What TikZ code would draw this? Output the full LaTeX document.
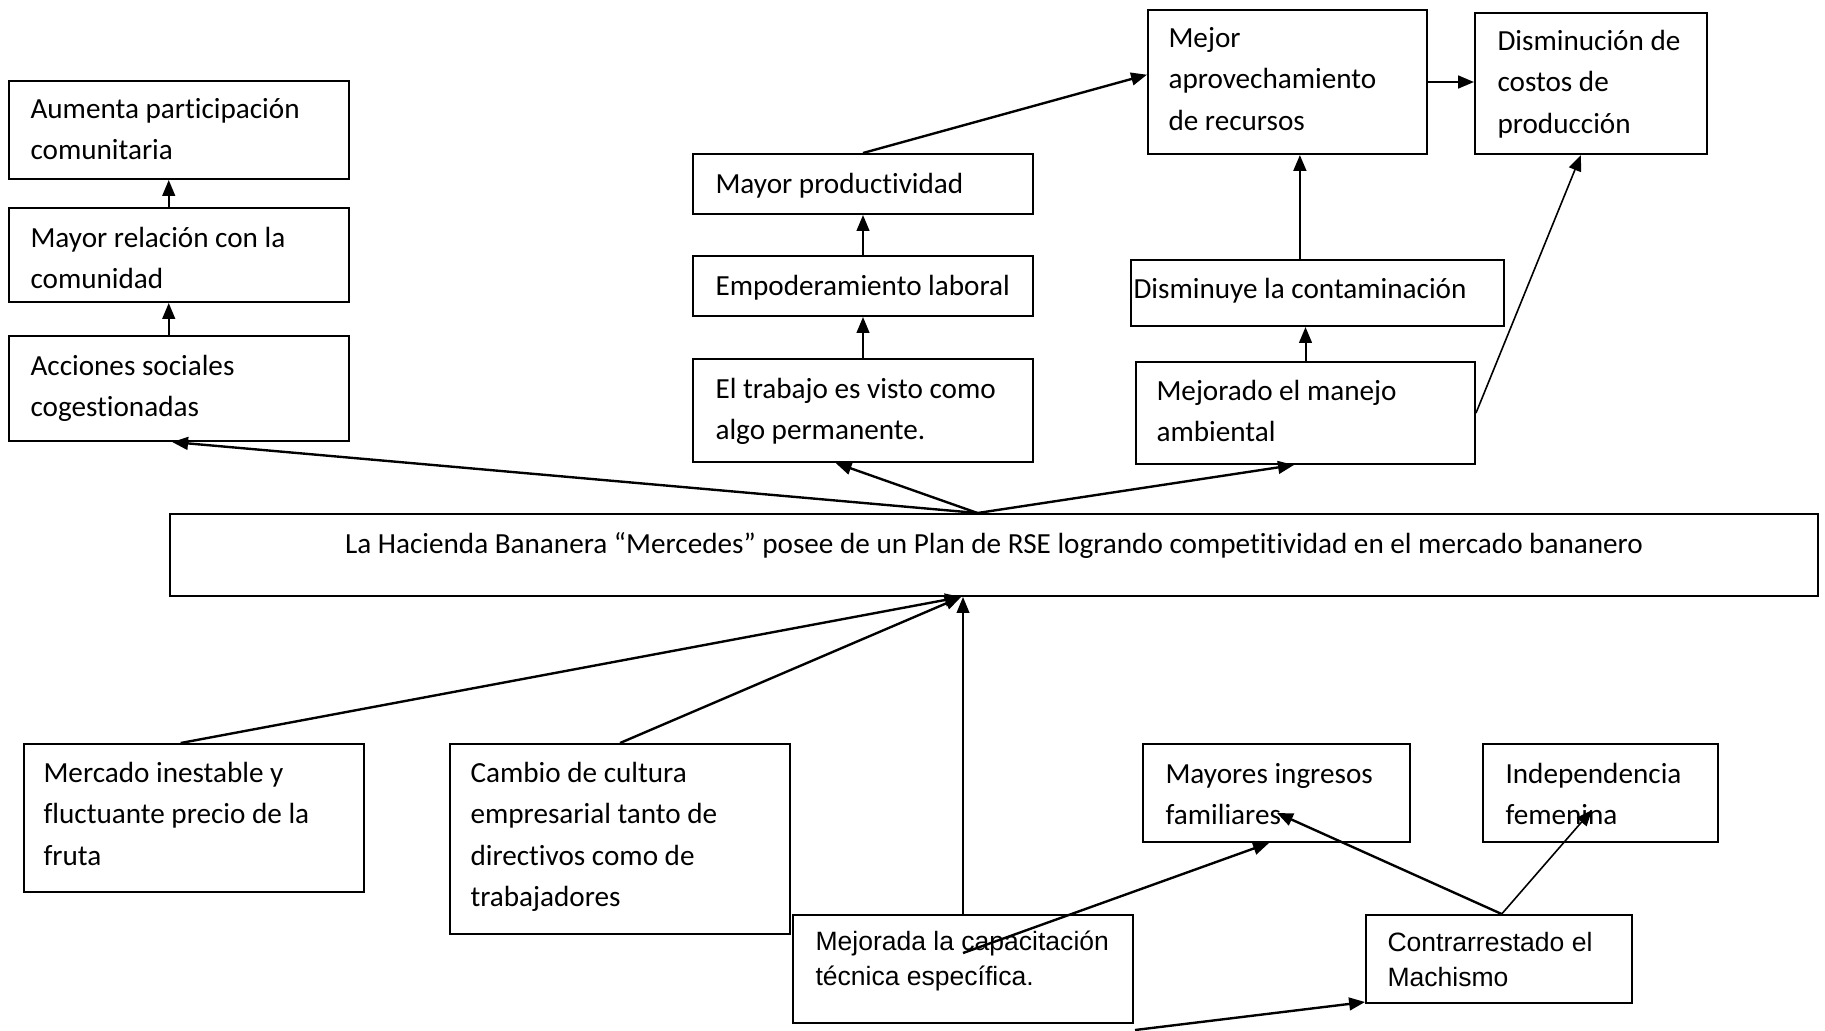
\documentclass[tikz,border=0pt]{standalone}
\usepackage{fontspec}
\setmainfont[RawFeature={-liga}]{Carlito}
\newfontfamily\arialf{Liberation Sans}
\usetikzlibrary{arrows.meta,fit,calc}
\newcommand\lns[2]{\vtop{\baselineskip=#1\relax\lineskip=0pt\lineskiplimit=-100pt\halign{##\hfil\cr#2\crcr}}}
\newcommand\cl[1]{{\fontsize{11pt}{15.65pt}\selectfont\lns{15.65pt}{#1}}}
\newcommand\al[1]{{\arialf\fontsize{10pt}{13.2pt}\selectfont\lns{13.2pt}{#1}}}
\begin{document}
\begin{tikzpicture}[x=0.377pt,y=-0.377pt,
  box/.style={draw, line width=0.75pt, inner sep=0pt},
  txt/.style={anchor=base west, inner sep=0pt},
  arr/.style={line width=0.9pt, -{Triangle[length=6pt,width=4.8pt]}},
  arrm/.style={line width=0.75pt, -{Triangle[length=6pt,width=4.8pt]}},
  thinarr/.style={line width=0.6pt, -{Triangle[length=6pt,width=4.8pt]}}]
\useasboundingbox (0,0) rectangle (1825,1030);

% ---------- boxes ----------
\node[box, fit={(9,81)(349,179)}] (aum) {};
\node[box, fit={(9,208)(349,302)}] (mrel) {};
\node[box, fit={(9,336)(349,441)}] (acc) {};
\node[box, fit={(693,154)(1033,214)}] (prod) {};
\node[box, fit={(693,256)(1033,316)}] (empod) {};
\node[box, fit={(693,359)(1033,462)}] (trab) {};
\node[box, fit={(1148,10)(1427,154)}] (mejor) {};
\node[box, fit={(1475,13)(1707,154)}] (dism) {};
\node[box, fit={(1131,260)(1504,326)}] (cont) {};
\node[box, fit={(1136,362)(1475,464)}] (manejo) {};
\node[box, fit={(170,514)(1818,596)}] (cen) {};
\node[box, fit={(24,744)(364,892)}] (merc) {};
\node[box, fit={(450,744)(790,934)}] (camb) {};
\node[box, fit={(793,915)(1133,1023)}] (mjd) {};
\node[box, fit={(1143,744)(1410,842)}] (may) {};
\node[box, fit={(1483,744)(1718,842)}] (ind) {};
\node[box, fit={(1366,915)(1632,1003)}] (contr) {};

% ---------- texts ----------
\node[txt] (aum-t) at (30,118) {\cl{Aumenta participación\cr comunitaria}};
\node[txt] (mrel-t) at (30,247) {\cl{Mayor relación con la\cr comunidad}};
\node[txt] (acc-t) at (30,375) {\cl{Acciones sociales\cr cogestionadas}};
\node[txt] (prod-t) at (715,193) {\cl{Mayor productividad}};
\node[txt] (empod-t) at (715,295) {\cl{Empoderamiento laboral}};
\node[txt] (trab-t) at (715,398) {\cl{El trabajo es visto como\cr algo permanente.}};
\node[txt] (mejor-t) at (1168,47) {\cl{Mejor\cr aprovechamiento\cr de recursos}};
\node[txt] (dism-t) at (1497,50) {\cl{Disminución de\cr costos de\cr producción}};
\node[txt] (cont-t) at (1133,298) {\cl{Disminuye la contaminación}};
\node[txt] (manejo-t) at (1156,400) {\cl{Mejorado el manejo\cr ambiental}};
\node[anchor=base, inner sep=0pt] (cen-t) at (994,553) {\fontsize{11pt}{15.65pt}\selectfont La Hacienda Bananera “Mercedes” posee de un Plan de RSE logrando competitividad en el mercado bananero};
\node[txt] (merc-t) at (43,782) {\cl{Mercado inestable y\cr fluctuante precio de la\cr fruta}};
\node[txt] (camb-t) at (470,782) {\cl{Cambio de cultura\cr empresarial tanto de\cr directivos como de\cr trabajadores}};
\node[txt] (mjd-t) at (815,950) {\al{Mejorada la capacitación\cr técnica específica.}};
\node[txt] (may-t) at (1165,783) {\cl{Mayores ingresos\cr familiares}};
\node[txt] (ind-t) at (1505,783) {\cl{Independencia\cr femenina}};
\node[txt] (contr-t) at (1387,951) {\al{Contrarrestado el\cr Machismo}};

% ---------- helper coordinates ----------
\coordinate (ctop) at ($(cen.north west)!0.49!(cen.north east)$);
\coordinate (cbot) at ($(cen.south west)!0.48!(cen.south east)$);
\coordinate (cup) at ($(cont.north west)!0.453!(cont.north east)$);
\coordinate (mjdin) at ($(mjd.north west)+(171,39)$);
\coordinate (mayin) at ($(may.north west)+(135,70)$);
\coordinate (indin) at ($(ind.north west)+(110,67)$);
\coordinate (ctrtop) at ($(contr.north west)!0.51!(contr.north east)$);
\coordinate (free) at (1135,1030);

% ---------- connectors ----------
\draw[arrm] ($(mrel.north west)!0.47!(mrel.north east)$) -- ($(aum.south west)!0.47!(aum.south east)$);
\draw[arrm] ($(acc.north west)!0.47!(acc.north east)$) -- ($(mrel.south west)!0.47!(mrel.south east)$);
\draw[arrm] (empod.north) -- (prod.south);
\draw[arrm] (trab.north) -- (empod.south);
\draw[arr] (prod.north) -- ($(mejor.north west)!0.45!(mejor.south west)$);
\draw[arr] (mejor.east) -- (mejor.east -| dism.west);
\draw[arr] (cup) -- (cup |- mejor.south);
\draw[arrm] (manejo.north) -- (manejo.north |- cont.south);
\draw[thinarr] (manejo.east) -- ($(dism.south west)!0.457!(dism.south east)$);

\draw[arr] (ctop) -- ($(acc.south west)!0.48!(acc.south east)$);
\draw[arr] (ctop) -- ($(trab.south west)!0.42!(trab.south east)$);
\draw[arr] (ctop) -- ($(manejo.south west)!0.466!(manejo.south east)$);

\draw[arr] ($(merc.north west)!0.461!(merc.north east)$) -- (cbot);
\draw[arr] (camb.north) -- (cbot);
\draw[thinarr] (mjd.north) -- (mjd.north |- cen.south);

\draw[arr] (mjdin) -- ($(may.south west)!0.472!(may.south east)$);
\draw[arr] (ctrtop) -- (mayin);
\draw[thinarr] (ctrtop) -- (indin);
\draw[arr] (free) -- ($(contr.south west)+(0,-2)$);
\end{tikzpicture}
\end{document}
